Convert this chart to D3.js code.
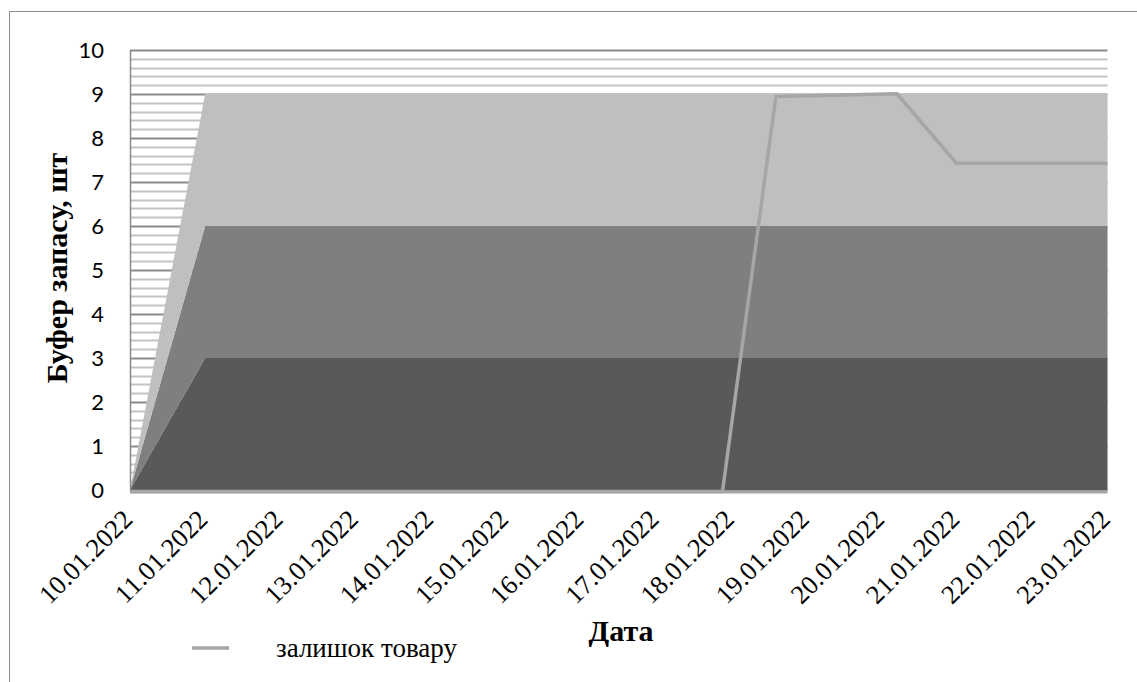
<!DOCTYPE html>
<html><head><meta charset="utf-8">
<script src="https://cdn.jsdelivr.net/npm/d3@7/dist/d3.min.js"></script>
<style>body{margin:0;background:#fff}svg{display:block}</style>
</head><body><svg id="c" width="1137" height="682"></svg>
<script>
const categories = ["10.01.2022","11.01.2022","12.01.2022","13.01.2022","14.01.2022","15.01.2022","16.01.2022","17.01.2022","18.01.2022","19.01.2022","20.01.2022","21.01.2022","22.01.2022","23.01.2022"];
const redZone    = [0,3,3,3,3,3,3,3,3,3,3,3,3,3];
const yellowZone = [0,3,3,3,3,3,3,3,3,3,3,3,3,3];
const greenZone  = [0,3,3,3,3,3,3,3,3,3,3,3,3,3];
// stock line: position in days since 10.01.2022, value
const stockDays   = [0, 7.88, 8.59, 10.2, 10.99, 13];
const stockValues = [0, 0, 8.98, 9.04, 7.46, 7.46];
const yTicks = [0,1,2,3,4,5,6,7,8,9,10];
const seriesName = "залишок товару";
const yTitle = "Буфер запасу, шт";
const xTitle = "Дата";

const SERIF = "'Times New Roman', serif";
const svg = d3.select("#c");
const L = 130, R = 1107.5, T = 50, B = 490;
const x = d3.scaleLinear().domain([0, categories.length - 1]).range([L, R]);
const y = d3.scaleLinear().domain([0, 10]).range([B, T]);

// outer border
svg.append("rect").attr("x", 9.5).attr("y", 11.5).attr("width", 1200).attr("height", 700)
  .attr("fill", "none").attr("stroke", "#8c8c8c").attr("stroke-width", 1);

// gridlines: minor every 0.2, major every 1
const minor = d3.range(0, 50).map(i => i * 0.2).filter(v => Math.abs(v - Math.round(v)) > 1e-6);
svg.append("g").selectAll("line").data(minor).join("line")
  .attr("x1", L).attr("x2", R).attr("y1", d => Math.round(y(d)) + 0.5).attr("y2", d => Math.round(y(d)) + 0.5)
  .attr("stroke", "#c4c4c4").attr("stroke-width", 2);
svg.append("g").selectAll("line").data(yTicks).join("line")
  .attr("x1", L).attr("x2", R).attr("y1", d => Math.round(y(d)) + 0.5).attr("y2", d => Math.round(y(d)) + 0.5)
  .attr("stroke", "#8a8a8a").attr("stroke-width", 2);

// stacked areas
const rows = categories.map((c, i) => ({i, a: redZone[i], b: yellowZone[i], c: greenZone[i]}));
const stack = d3.stack().keys(["a", "b", "c"])(rows);
const colors = ["#595959", "#7f7f7f", "#bfbfbf"];
const area = d3.area().x(d => x(d.data.i)).y0(d => y(d[0])).y1(d => y(d[1]));
svg.append("g").selectAll("path").data(stack).join("path")
  .attr("d", area).attr("fill", (d, i) => colors[i]);

// axes lines
svg.append("line").attr("x1", L + 0.5).attr("x2", L + 0.5).attr("y1", T).attr("y2", B + 2)
  .attr("stroke", "#8a8a8a").attr("stroke-width", 1.5);
svg.append("line").attr("x1", L).attr("x2", R).attr("y1", B + 2).attr("y2", B + 2)
  .attr("stroke", "#a6a6a6").attr("stroke-width", 3);

// stock line
const line = d3.line().x((d, i) => x(stockDays[i])).y(d => y(d));
svg.append("path").datum(stockValues).attr("d", line)
  .attr("fill", "none").attr("stroke", "#a6a6a6").attr("stroke-width", 3.5).attr("stroke-linejoin", "round")
  .attr("transform", "translate(0,1.5)");

// y tick labels
svg.append("g").selectAll("text").data(yTicks).join("text")
  .attr("x", 104).attr("y", d => y(d)).attr("dy", "0.35em").attr("text-anchor", "end")
  .style("font-family", "Lato, 'Open Sans', sans-serif").attr("font-size", 22).attr("fill", "#000")
  .text(d => d);

// x tick labels
svg.append("g").selectAll("text").data(categories).join("text")
  .attr("transform", (d, i) => `translate(${x(i) + 4},${521}) rotate(-45)`)
  .attr("text-anchor", "end")
  .style("font-family", SERIF).attr("font-size", 26.5).attr("fill", "#000")
  .text(d => d);

// titles
svg.append("text").attr("transform", `translate(67,268) rotate(-90)`).attr("text-anchor", "middle")
  .style("font-family", SERIF).attr("font-weight", "bold").attr("font-size", 30)
  .text(yTitle);
svg.append("text").attr("x", 621).attr("y", 641).attr("text-anchor", "middle")
  .style("font-family", SERIF).attr("font-weight", "bold").attr("font-size", 30)
  .text(xTitle);

// legend
svg.append("line").attr("x1", 192).attr("x2", 229).attr("y1", 648).attr("y2", 648)
  .attr("stroke", "#a6a6a6").attr("stroke-width", 3.5);
svg.append("text").attr("x", 276).attr("y", 657)
  .style("font-family", SERIF).attr("font-size", 27)
  .text(seriesName);
</script></body></html>
